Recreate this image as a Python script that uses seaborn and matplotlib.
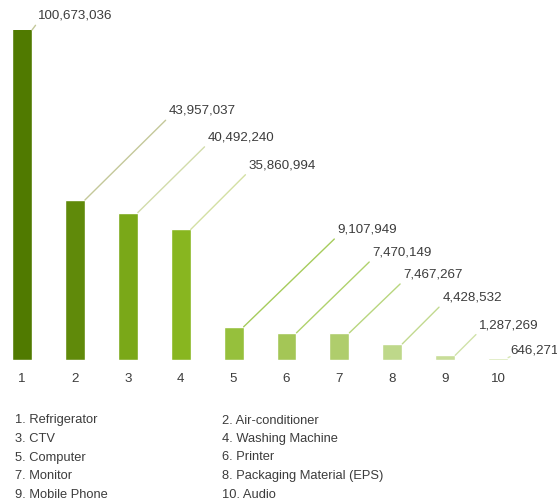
import matplotlib
matplotlib.use("Agg")
import matplotlib.pyplot as plt
import seaborn as sns

# data
ranks = ["1", "2", "3", "4", "5", "6", "7", "8", "9", "10"]
values = [100673036, 43957037, 40492240, 35860994, 9107949,
          7470149, 7467267, 4428532, 1287269, 646271]
items = ["Refrigerator", "Air-conditioner", "CTV", "Washing Machine", "Computer",
         "Printer", "Monitor", "Packaging Material (EPS)", "Mobile Phone", "Audio"]

bar_colors = ["#507a00", "#608a0a", "#7aa818", "#88b620", "#96c03c",
              "#a4c656", "#afcd6c", "#bed88a", "#c8dd98", "#d2e4a8"]
line_colors = ["#c4c89a", "#c4c89a", "#d2dcaa", "#d4e0a4", "#a6cc5c",
               "#b0d26c", "#b8d67e", "#c2da90", "#d0e2a8", "#d6e6b4"]
# leader line offsets in pixels (right, up) from each bar's top-right corner
label_offsets = [(6, 8), (84, 83), (70, 69), (58, 58), (94, 91),
                 (76, 74), (54, 52), (40, 40), (24, 24), (2, 1)]

sns.set_style("white")
plt.rcParams["font.family"] = ["Liberation Sans", "DejaVu Sans"]
text_color = "#3c3c3c"

W, H = 557, 504
fig = plt.figure(figsize=(W / 100, H / 100), dpi=100)
ax = fig.add_axes([0, 144 / H, 1, 330 / H])

sns.barplot(x=ranks, y=values, hue=ranks, palette=bar_colors, legend=False,
            width=0.378, saturation=1, ax=ax)

px_per_unit = 52.9
ax.set_xlim(-22 / px_per_unit, (W - 22) / px_per_unit)
ymax = 330 / 3.64 * 1e6
ax.set_ylim(0, ymax)

for i, v in enumerate(values):
    top = min(v, ymax)
    dx, dy = label_offsets[i]
    ax.annotate(f"{v:,}", xy=(i + 0.378 / 2, top), xycoords="data",
                xytext=(dx, dy), textcoords="offset pixels",
                ha="left", va="bottom", fontsize=9.6, color=text_color,
                annotation_clip=False,
                arrowprops=dict(arrowstyle="-", color=line_colors[i], lw=1.0,
                                shrinkA=0, shrinkB=0, relpos=(0, 0)))

ax.set_yticks([])
ax.tick_params(axis="x", length=0, pad=9.4, labelsize=9.6, colors=text_color)
for s in ax.spines.values():
    s.set_visible(False)
ax.set_xlabel("")
ax.set_ylabel("")

# legend list below the chart, two columns
for i, name in enumerate(items):
    col = i % 2
    row = i // 2
    x = 15 if col == 0 else 222
    y = 420.5 + row * 18.5
    fig.text(x / W, 1 - y / H, f"{ranks[i]}. {name}", ha="left", va="center",
             fontsize=9.3, color=text_color)

fig.savefig("out.png", dpi=100)
